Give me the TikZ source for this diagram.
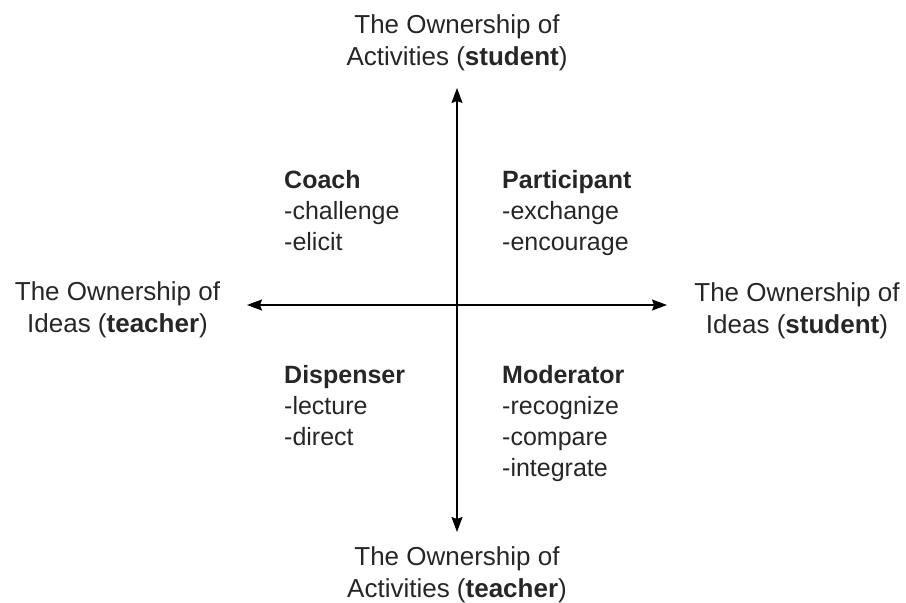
\documentclass[tikz,border=0pt]{standalone}
\usepackage{fontspec}
\setmainfont{Liberation Sans}
\usetikzlibrary{arrows.meta}
\begin{document}
\begin{tikzpicture}[x=1pt,y=-1pt,
  axis/.style={line width=1.6pt,-{Stealth[length=15pt,width=11pt,inset=2pt]}},
  outer/.style={anchor=north,inner sep=0pt,align=center,text=black!85,font=\fontsize{26}{32}\selectfont},
  quad/.style={anchor=north west,inner sep=0pt,align=left,text=black!85,font=\fontsize{25}{31}\selectfont}]
\useasboundingbox (0,0) rectangle (906,603);
\coordinate (c) at (457,305);
\coordinate (topTip) at (457,88);
\coordinate (botTip) at (457,532);
\coordinate (leftTip) at (247,305);
\coordinate (rightTip) at (667,305);
\draw[axis] (c) -- (topTip);
\draw[axis] (c) -- (botTip);
\draw[axis] (c) -- (leftTip);
\draw[axis] (c) -- (rightTip);
\node[outer] (actS) at (457,14) {The Ownership of\\Activities (\textbf{student})};
\node[outer] (actT) at (457,546) {The Ownership of\\Activities (\textbf{teacher})};
\node[outer] (ideaT) at (117.5,281) {The Ownership of\\Ideas (\textbf{teacher})};
\node[outer] (ideaS) at (797,282) {The Ownership of\\Ideas (\textbf{student})};
\node[quad] (coach) at (284,170) {\textbf{Coach}\\-challenge\\-elicit};
\node[quad] (part) at (502,170) {\textbf{Participant}\\-exchange\\-encourage};
\node[quad] (disp) at (284,365) {\textbf{Dispenser}\\-lecture\\-direct};
\node[quad] (mod) at (502,365) {\textbf{Moderator}\\-recognize\\-compare\\-integrate};
\end{tikzpicture}
\end{document}
